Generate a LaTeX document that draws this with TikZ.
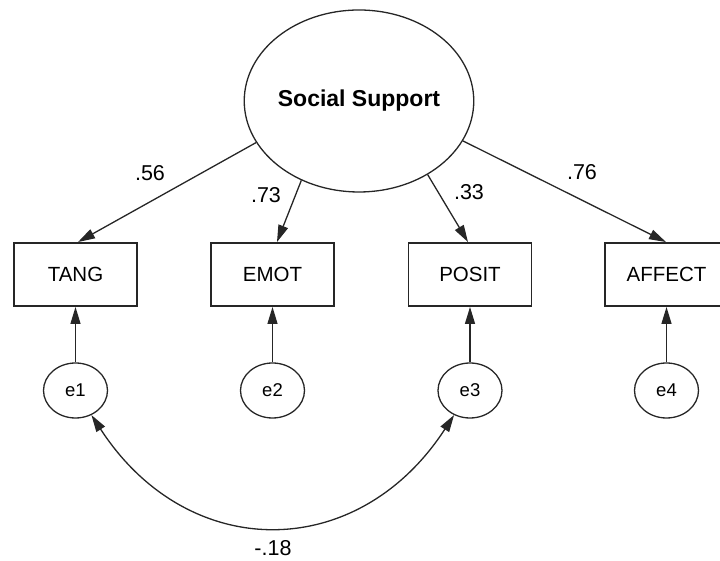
\documentclass[tikz,border=0pt]{standalone}
\usepackage{fontspec}
\setmainfont{Liberation Sans}
\usetikzlibrary{arrows.meta,shapes.geometric}
\begin{document}
\begin{tikzpicture}[x=1pt,y=1pt,
  obs/.style={draw=black!85, line width=1.9pt, minimum width=123pt, minimum height=63pt,
              inner sep=0pt, font=\fontsize{20.5}{24}\selectfont},
  err/.style={ellipse, draw=black!85, line width=1.3pt, minimum width=64pt, minimum height=55pt,
              inner sep=0pt, font=\fontsize{18.5}{22}\selectfont},
  lat/.style={ellipse, draw=black!85, line width=1.3pt, minimum width=214pt, minimum height=182pt,
              inner sep=0pt, font=\bfseries\fontsize{23}{27}\selectfont},
  tipstyle/.tip={Triangle[length=17pt,width=10pt]},
  load/.style={draw=black!85, line width=1.3pt, -tipstyle},
  coef/.style={font=\fontsize{21.5}{25}\selectfont, inner sep=0pt}
]
\useasboundingbox (0,0) rectangle (720,561);
\clip (0,0) rectangle (720,561);

% latent factor
\node[lat] (ss) at (359,460) {Social Support};

% indicators
\node[obs] (tang)   at (75.5,286.5)  {TANG};
\node[obs] (emot)   at (272.5,286.5) {EMOT};
\node[obs] (posit)  at (470,286.5)   {POSIT};
\node[obs] (affect) at (666.5,286.5) {AFFECT};

% error terms
\node[err] (e1) at (75.5,170.5)  {e1};
\node[err] (e2) at (272.5,170.5) {e2};
\node[err] (e3) at (470,170.5)   {e3};
\node[err] (e4) at (666.5,170.5) {e4};

% factor loadings
\draw[load] (ss.202.7) -- ([xshift=2.5pt]tang.north);
\draw[load] (ss.234)   -- ([xshift=4.5pt]emot.north);
\draw[load] (ss.313.3) -- ([xshift=-2pt]posit.north);
\draw[load] (ss.339.2) -- ([xshift=-0.5pt]affect.north);

% error paths
\draw[load] (e1) -- (tang);
\draw[load] (e2) -- (emot);
\draw[load] (e3) -- (posit);
\draw[load] (e4) -- (affect);

% error covariance
\draw[load, tipstyle-tipstyle] (e1.-57) to[out=-57, in=-123, looseness=1.25] (e3.-123);

% coefficients
\node[coef] (c1) at (150,388) {.56};
\node[coef] (c2) at (266,366) {.73};
\node[coef] (c3) at (469,369) {.33};
\node[coef] (c4) at (582,389) {.76};
\node[coef] (c5) at (273,13)  {-.18};
\end{tikzpicture}
\end{document}
